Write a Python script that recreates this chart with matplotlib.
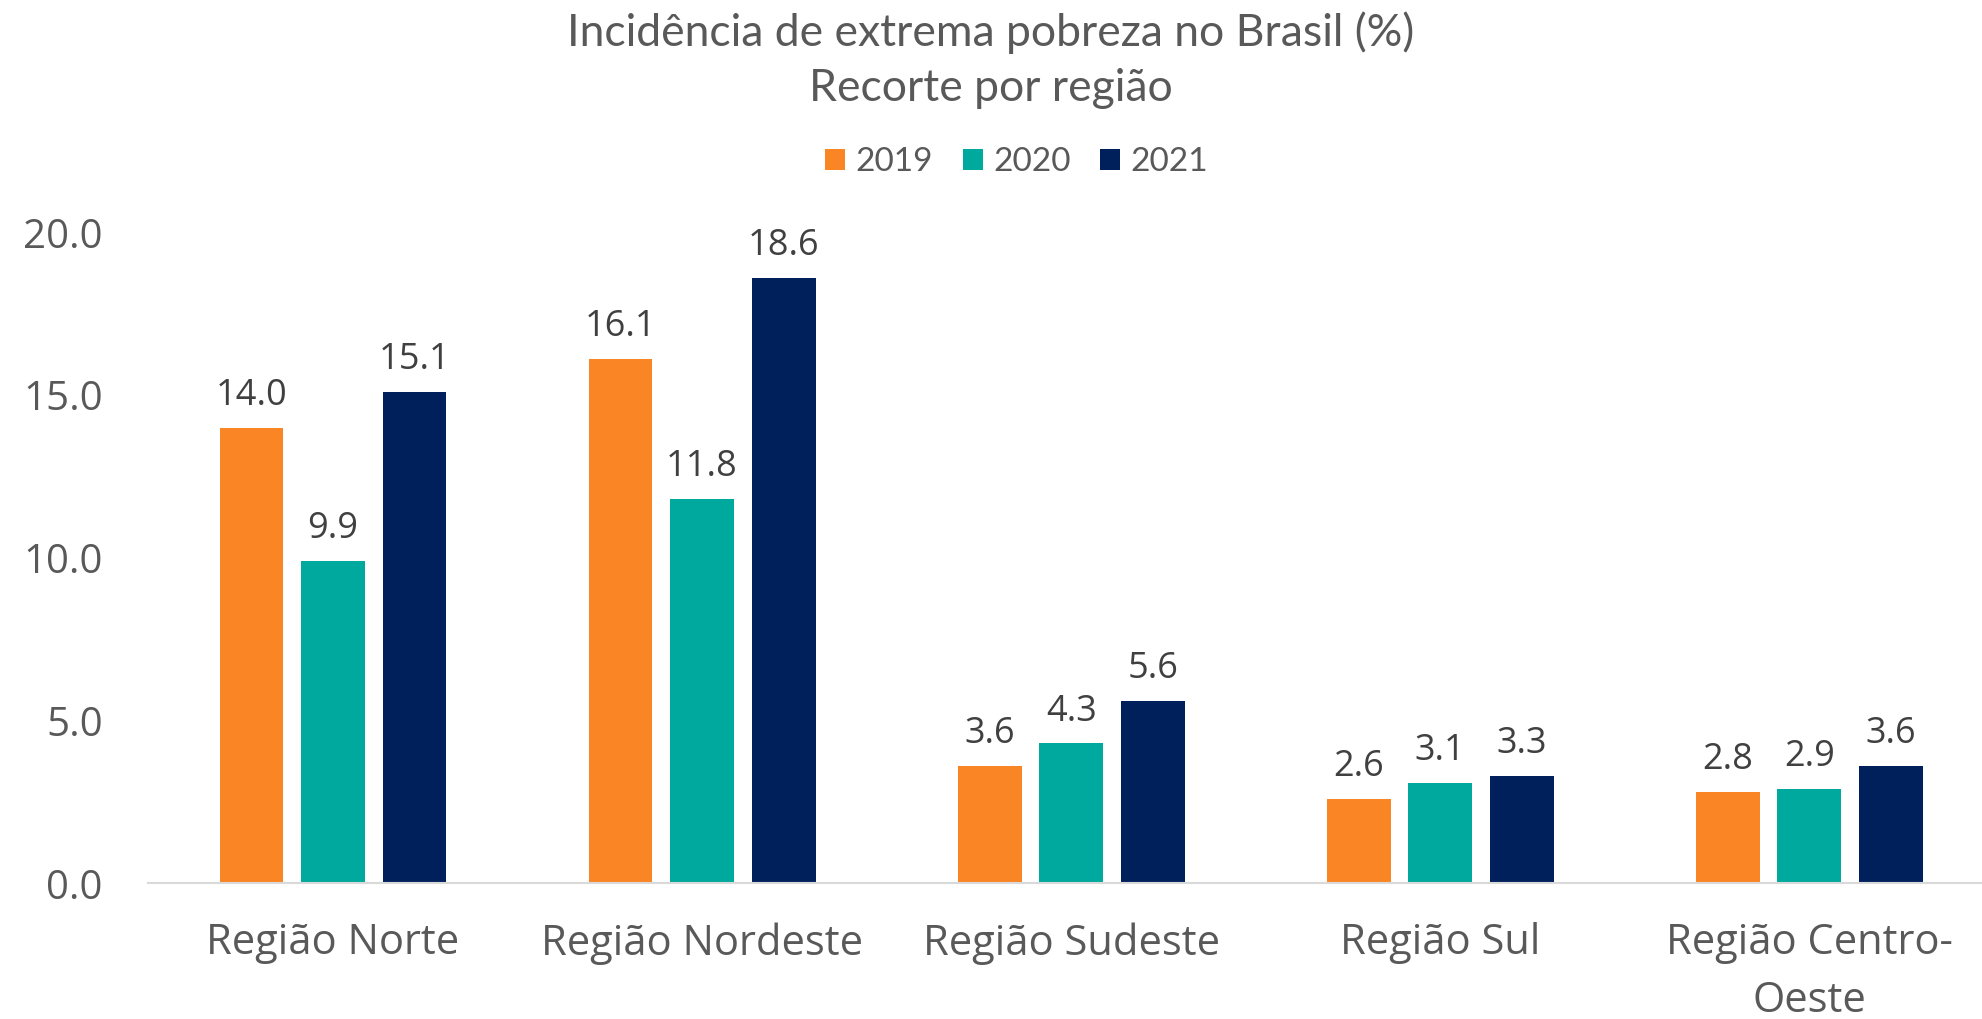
import matplotlib
matplotlib.use("Agg")
import matplotlib.pyplot as plt
import numpy as np

categories = ["Região Norte", "Região Nordeste", "Região Sudeste", "Região Sul", "Região Centro-\nOeste"]
years = ["2019", "2020", "2021"]
v2019 = [14.0, 16.1, 3.6, 2.6, 2.8]
v2020 = [9.9, 11.8, 4.3, 3.1, 2.9]
v2021 = [15.1, 18.6, 5.6, 3.3, 3.6]
colors = ["#F98524", "#00A99D", "#00205B"]
yticks = [0, 5, 10, 15, 20]

txt = "#595959"
plt.rcParams['font.family'] = ['Open Sans', 'DejaVu Sans']

fig = plt.figure(figsize=(19.82, 10.19), dpi=100)
ax = fig.add_axes([0.0749, 0.133, 0.9311, 0.639])

x = np.arange(len(categories))
w = 0.173
step = 0.221
series = [v2019, v2020, v2021]
for i, (vals, c, lab) in enumerate(zip(series, colors, years)):
    bars = ax.bar(x + (i - 1) * step, vals, width=w, color=c, label=lab)
    for b, v in zip(bars, vals):
        ax.annotate(f"{v:.1f}", (b.get_x() + b.get_width() / 2, v),
                    xytext=(0, 10), textcoords="offset points",
                    ha="center", va="bottom", fontsize=26, color="#404040")

ax.set_xlim(-0.5, len(categories) - 0.5)
ax.set_ylim(0, 20)
ax.set_yticks(yticks)
ax.set_yticklabels([f"{t:.1f}" for t in yticks], fontsize=29, color=txt)
ax.set_xticks(x)
ax.set_xticklabels(categories, fontsize=30, color=txt, linespacing=1.48)
ax.tick_params(axis="both", length=0)
ax.tick_params(axis="y", pad=33)
ax.tick_params(axis="x", pad=28)
for s in ["top", "right", "left"]:
    ax.spines[s].set_visible(False)
ax.spines["bottom"].set_color("#D9D9D9")
ax.spines["bottom"].set_linewidth(1.5)

fig.text(0.5, 0.968, "Incidência de extrema pobreza no Brasil (%)", ha="center", va="center",
         fontsize=32, color=txt, family=['Lato', 'DejaVu Sans'])
fig.text(0.5, 0.913, "Recorte por região", ha="center", va="center", fontsize=32, color=txt,
         family=['Lato', 'DejaVu Sans'])

fig.legend(loc="center", bbox_to_anchor=(0.513, 0.841), ncol=3, frameon=False,
           prop={'family': ['Lato', 'DejaVu Sans'], 'size': 24},
           handlelength=0.6, handleheight=0.6, handletextpad=0.3,
           columnspacing=0.9, labelcolor=txt)

fig.savefig("out.png", dpi=100)
